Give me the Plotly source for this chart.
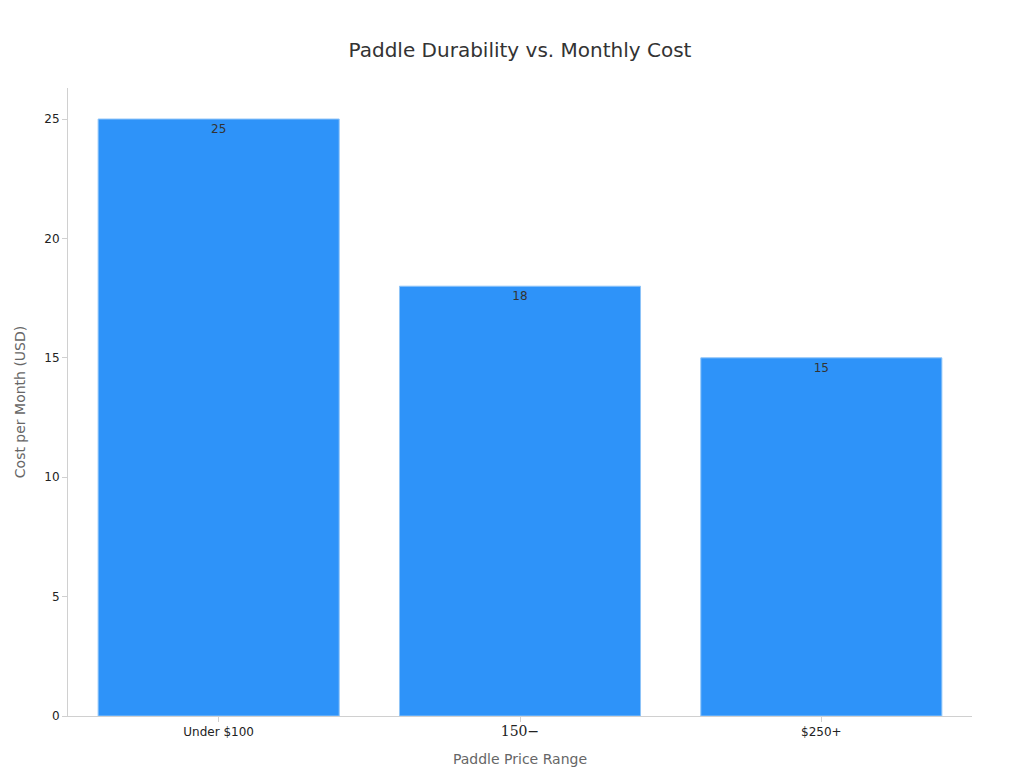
import plotly.graph_objects as go

categories = ["Under $100", "$150-$250", "$250+"]
tick_text = ["Under $100", "<span style='font-family:DejaVu Serif;font-size:14px'>150−</span>", "$250+"]
cost = [25, 18, 15]

fig = go.Figure()
fig.add_trace(go.Bar(
    x=categories, y=cost, text=cost, textposition="inside", insidetextanchor="end",
    textfont=dict(color="#333333", size=12),
    marker=dict(color="#2E93F9", line=dict(color="#8ec4f8", width=1)),
    width=0.8,
))

fig.update_layout(
    title=dict(text="Paddle Durability vs. Monthly Cost", x=0.5, y=0.955,
               font=dict(size=20, color="#333333")),
    width=1024, height=768,
    font=dict(family="DejaVu Sans", size=12, color="#222222"),
    plot_bgcolor="white", paper_bgcolor="white",
    margin=dict(l=60, r=60, t=80, b=60),
    showlegend=False,
    xaxis=dict(title=dict(text="Paddle Price Range", font=dict(size=14, color="#666666")),
               tickvals=categories, ticktext=tick_text,
               showline=True, linecolor="#d0d0d0", ticks="outside", tickcolor="#d0d0d0"),
    yaxis=dict(title=dict(text="Cost per Month (USD)", font=dict(size=14, color="#666666")),
               range=[0, 26.3], dtick=5, showgrid=False, zeroline=False,
               showline=True, linecolor="#d0d0d0", ticks="outside", tickcolor="#d0d0d0"),
)

fig.write_html("out.html")
